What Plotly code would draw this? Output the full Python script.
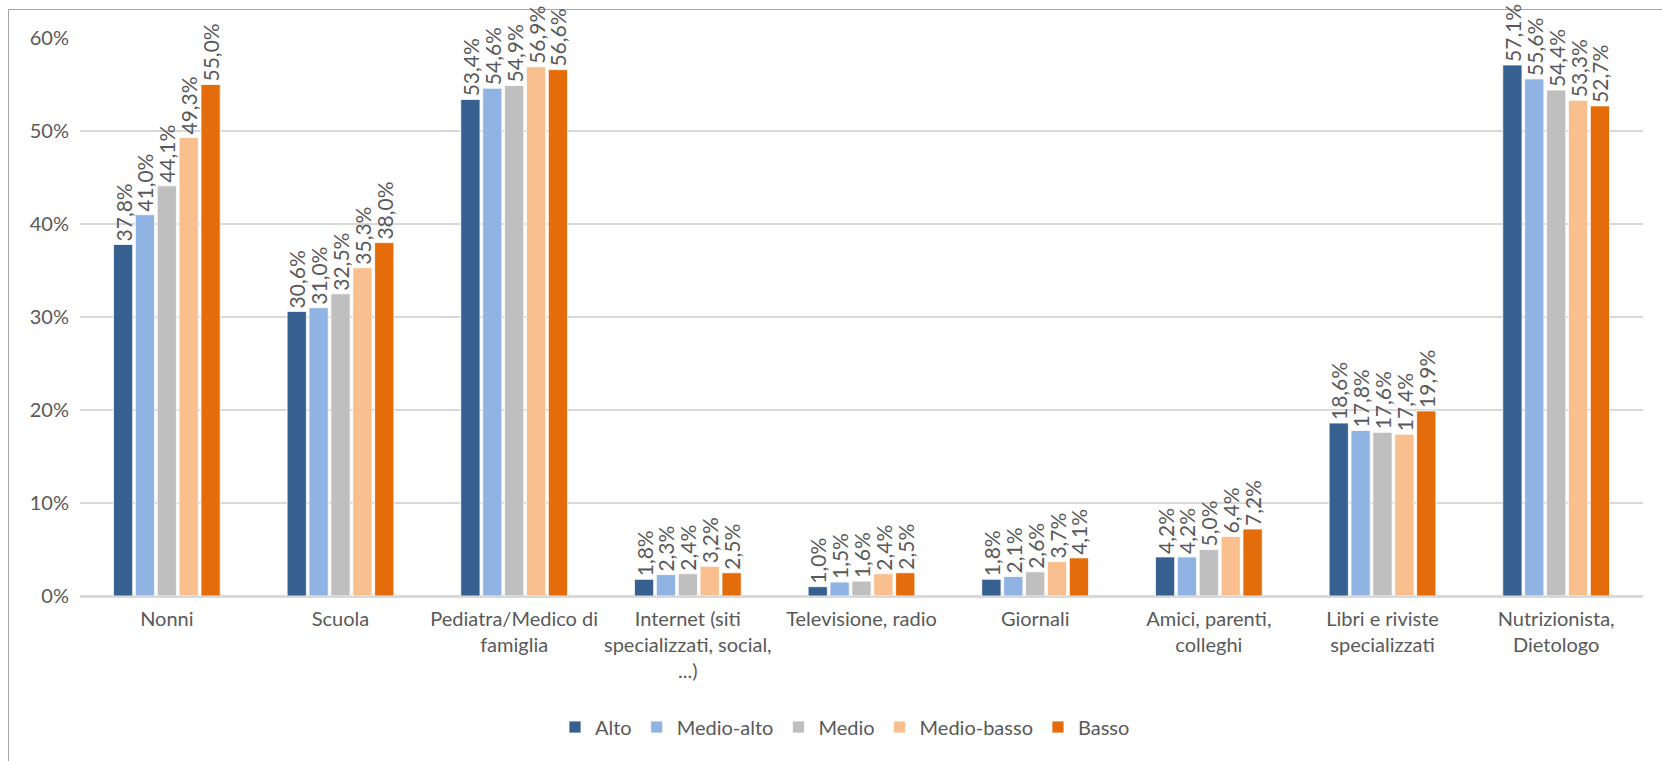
import plotly.graph_objects as go

categories = [
    "Nonni",
    "Scuola",
    "Pediatra/Medico di<br>famiglia",
    "Internet (siti<br>specializzati, social,<br>...)",
    "Televisione, radio",
    "Giornali",
    "Amici, parenti,<br>colleghi",
    "Libri e riviste<br>specializzati",
    "Nutrizionista,<br>Dietologo",
]

alto = [37.8, 30.6, 53.4, 1.8, 1.0, 1.8, 4.2, 18.6, 57.1]
medio_alto = [41.0, 31.0, 54.6, 2.3, 1.5, 2.1, 4.2, 17.8, 55.6]
medio = [44.1, 32.5, 54.9, 2.4, 1.6, 2.6, 5.0, 17.6, 54.4]
medio_basso = [49.3, 35.3, 56.9, 3.2, 2.4, 3.7, 6.4, 17.4, 53.3]
basso = [55.0, 38.0, 56.6, 2.5, 2.5, 4.1, 7.2, 19.9, 52.7]

series_names = ["Alto", "Medio-alto", "Medio", "Medio-basso", "Basso"]
series_values = [alto, medio_alto, medio, medio_basso, basso]
series_colors = ["#36608F", "#8FB4E3", "#BFBFBF", "#F9BF8F", "#E46C0A"]

y_ticks = [0, 10, 20, 30, 40, 50, 60]
y_tick_labels = ["0%", "10%", "20%", "30%", "40%", "50%", "60%"]

FONT = "Lato, 'Open Sans', sans-serif"
GREY = "#595959"


def fmt(v):
    return f"{v:.1f}".replace(".", ",") + "%"


fig = go.Figure()
for name, vals, col in zip(series_names, series_values, series_colors):
    fig.add_trace(go.Bar(
        name=name,
        x=categories,
        y=vals,
        marker=dict(color=col, line=dict(color="white", width=0.8)),
        text=[fmt(v) for v in vals],
        textposition="outside",
        textangle=-90,
        textfont=dict(family=FONT, size=21, color=GREY),
        constraintext="none",
        cliponaxis=False,
        hoverinfo="x+y+name",
    ))

W, H = 1662, 761
ml, mr, mt, mb = 80, 19, 38, 165
pw = W - ml - mr
ph = H - mt - mb

fig.update_layout(
    width=W,
    height=H,
    barmode="group",
    bargap=0.37,
    bargroupgap=0.12,
    plot_bgcolor="white",
    paper_bgcolor="white",
    margin=dict(l=ml, r=mr, t=mt, b=mb, autoexpand=False),
    font=dict(family=FONT, color=GREY),
    xaxis=dict(
        showgrid=False,
        showline=True,
        linecolor="#D9D9D9",
        linewidth=1.5,
        ticks="",
        tickfont=dict(family=FONT, size=20, color=GREY),
        tickangle=0,
        ticklabelstandoff=4,
    ),
    yaxis=dict(
        range=[0, 60],
        tickvals=y_ticks,
        ticktext=y_tick_labels,
        showgrid=True,
        gridcolor="#D9D9D9",
        gridwidth=1.5,
        zeroline=True,
        zerolinecolor="#D9D9D9",
        zerolinewidth=1.5,
        showline=False,
        ticks="",
        tickfont=dict(family=FONT, size=20, color=GREY),
        ticklabelstandoff=10,
    ),
    legend=dict(
        orientation="h",
        x=(845 - ml) / pw,
        xanchor="center",
        y=(mt + ph - 727) / ph,
        yanchor="middle",
        font=dict(family=FONT, size=20, color=GREY),
        traceorder="normal",
        itemwidth=30,
        bgcolor="rgba(0,0,0,0)",
    ),
    shapes=[dict(
        type="rect",
        xref="paper",
        yref="paper",
        x0=(8.5 - ml) / pw,
        x1=(W + 20 - ml) / pw,
        y0=(mt + ph - (H + 20)) / ph,
        y1=1 + (mt - 9.5) / ph,
        line=dict(color="#A6A6A6", width=1),
        fillcolor="rgba(0,0,0,0)",
        layer="below",
    )],
)

fig.write_html(
    "out.html",
    config={"displayModeBar": False},
    post_script="document.body.style.margin='0';document.body.style.overflow='hidden';",
)
